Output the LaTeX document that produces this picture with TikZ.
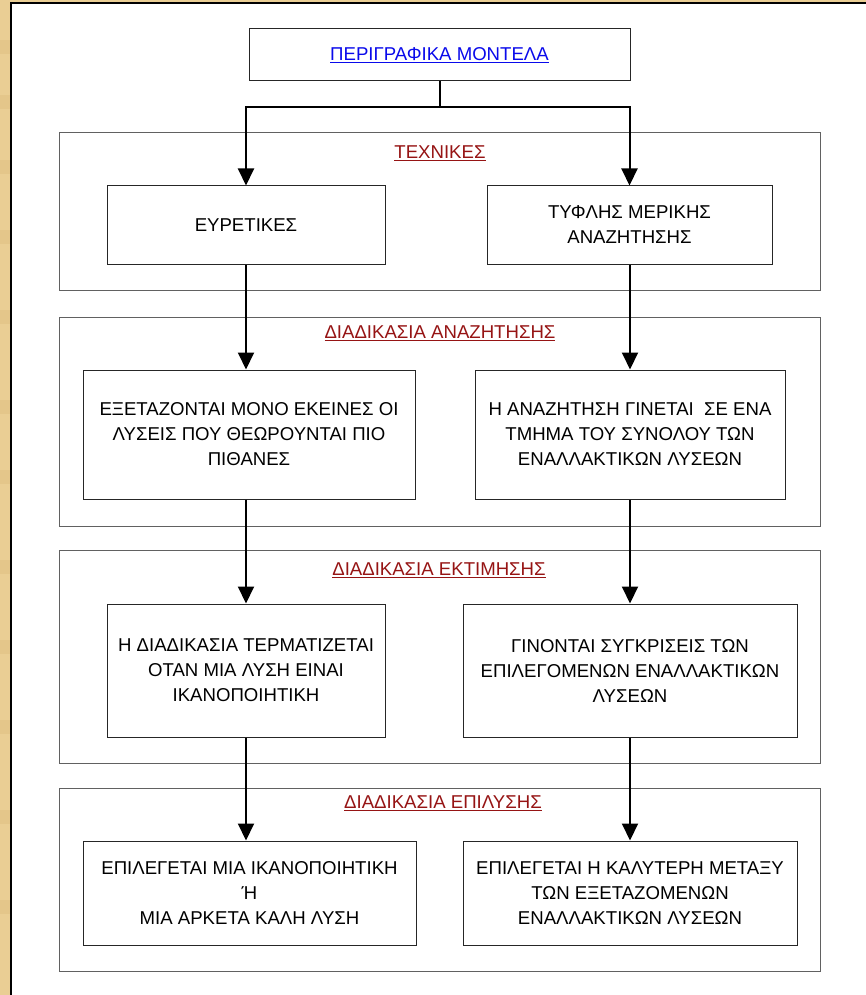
\documentclass[tikz,border=0pt]{standalone}
\usepackage{fontspec}
\setmainfont{Liberation Sans}
\usetikzlibrary{arrows.meta, calc}

\definecolor{parchment}{RGB}{234,206,148}
\definecolor{parchdark}{RGB}{228,198,138}
\definecolor{titlered}{RGB}{150,20,20}
\definecolor{linkblue}{RGB}{10,10,235}

\begin{document}
\begin{tikzpicture}[x=1pt, y=-1pt,
  box/.style={draw=black!85, line width=1pt, fill=white, inner sep=0pt,
              align=center, font=\fontsize{18.6}{25}\selectfont},
  frame/.style={draw=black!62, line width=1pt},
  heading/.style={text=titlered, font=\fontsize{18.6}{25}\selectfont},
  arr/.style={line width=2pt, -{Triangle[width=16pt, length=17pt]}}]

  % page
  \useasboundingbox (0, 0) rectangle (866, 995);
  \fill[parchment] (0, 0) rectangle (866, 995);
  \foreach \y in {40, 95, 160, 230, 310, 400, 470, 560, 640, 720, 810, 900} {
    \fill[parchdark] (0, \y) rectangle (11, \y + 14);
  }
  \fill[white] (11, 3) rectangle (866, 995);
  \draw[black, line width=1.3pt] (11, 995) -- (11, 3) -- (866, 3);

  \coordinate (colL) at (246, 0);
  \coordinate (colR) at (630, 0);

  % frames
  \draw[frame] (59, 133) rectangle (820, 290);
  \draw[frame] (59, 317) rectangle (820, 526);
  \draw[frame] (59, 550) rectangle (820, 763);
  \draw[frame] (59, 788) rectangle (820, 971);

  \node[heading] (tech)   at (440, 153) {\underline{ΤΕΧΝΙΚΕΣ}};
  \node[heading] (search) at (440, 333) {\underline{ΔΙΑΔΙΚΑΣΙΑ ΑΝΑΖΗΤΗΣΗΣ}};
  \node[heading] (eval)   at (439, 570) {\underline{ΔΙΑΔΙΚΑΣΙΑ ΕΚΤΙΜΗΣΗΣ}};
  \node[heading] (solve)  at (443, 803) {\underline{ΔΙΑΔΙΚΑΣΙΑ ΕΠΙΛΥΣΗΣ}};

  % boxes
  \node[box, minimum width=381, minimum height=52, text=linkblue] (top) at (439.5, 55)
    {\underline{ΠΕΡΙΓΡΑΦΙΚΑ ΜΟΝΤΕΛΑ}};

  \node[box, minimum width=278, minimum height=78] (heurL) at (246, 225) {ΕΥΡΕΤΙΚΕΣ};
  \node[box, minimum width=285, minimum height=78] (blindR) at (629.5, 225)
    {ΤΥΦΛΗΣ ΜΕΡΙΚΗΣ\\ΑΝΑΖΗΤΗΣΗΣ};

  \node[box, minimum width=332, minimum height=129] (searchL) at (249, 434.5)
    {ΕΞΕΤΑΖΟΝΤΑΙ ΜΟΝΟ ΕΚΕΙΝΕΣ ΟΙ\\ΛΥΣΕΙΣ ΠΟΥ ΘΕΩΡΟΥΝΤΑΙ ΠΙΟ\\ΠΙΘΑΝΕΣ};
  \node[box, minimum width=310, minimum height=129] (searchR) at (630, 434.5)
    {Η ΑΝΑΖΗΤΗΣΗ ΓΙΝΕΤΑΙ\ \ ΣΕ ΕΝΑ\\ΤΜΗΜΑ ΤΟΥ ΣΥΝΟΛΟΥ ΤΩΝ\\ΕΝΑΛΛΑΚΤΙΚΩΝ ΛΥΣΕΩΝ};

  \node[box, minimum width=278, minimum height=133] (evalL) at (246, 670.5)
    {Η ΔΙΑΔΙΚΑΣΙΑ ΤΕΡΜΑΤΙΖΕΤΑΙ\\ΟΤΑΝ ΜΙΑ ΛΥΣΗ ΕΙΝΑΙ\\ΙΚΑΝΟΠΟΙΗΤΙΚΗ};
  \node[box, minimum width=334, minimum height=133] (evalR) at (630, 670.5)
    {ΓΙΝΟΝΤΑΙ ΣΥΓΚΡΙΣΕΙΣ ΤΩΝ\\ΕΠΙΛΕΓΟΜΕΝΩΝ ΕΝΑΛΛΑΚΤΙΚΩΝ\\ΛΥΣΕΩΝ};

  \node[box, minimum width=333, minimum height=104] (solveL) at (249.5, 893)
    {ΕΠΙΛΕΓΕΤΑΙ ΜΙΑ ΙΚΑΝΟΠΟΙΗΤΙΚΗ\\Ή\\ΜΙΑ ΑΡΚΕΤΑ ΚΑΛΗ ΛΥΣΗ};
  \node[box, minimum width=334, minimum height=104] (solveR) at (630, 893)
    {ΕΠΙΛΕΓΕΤΑΙ Η ΚΑΛΥΤΕΡΗ ΜΕΤΑΞΥ\\ΤΩΝ ΕΞΕΤΑΖΟΜΕΝΩΝ\\ΕΝΑΛΛΑΚΤΙΚΩΝ ΛΥΣΕΩΝ};

  % connectors
  \draw[line width=2pt] (top.south) -- ++(0, 26) coordinate (split);
  \draw[arr] (split) -| (heurL.north);
  \draw[arr] (split) -| (blindR.north);

  \draw[arr] (colL |- heurL.south)   -- (colL |- searchL.north);
  \draw[arr] (colR |- blindR.south)  -- (colR |- searchR.north);
  \draw[arr] (colL |- searchL.south) -- (colL |- evalL.north);
  \draw[arr] (colR |- searchR.south) -- (colR |- evalR.north);
  \draw[arr] (colL |- evalL.south)   -- (colL |- solveL.north);
  \draw[arr] (colR |- evalR.south)   -- (colR |- solveR.north);

\end{tikzpicture}
\end{document}
